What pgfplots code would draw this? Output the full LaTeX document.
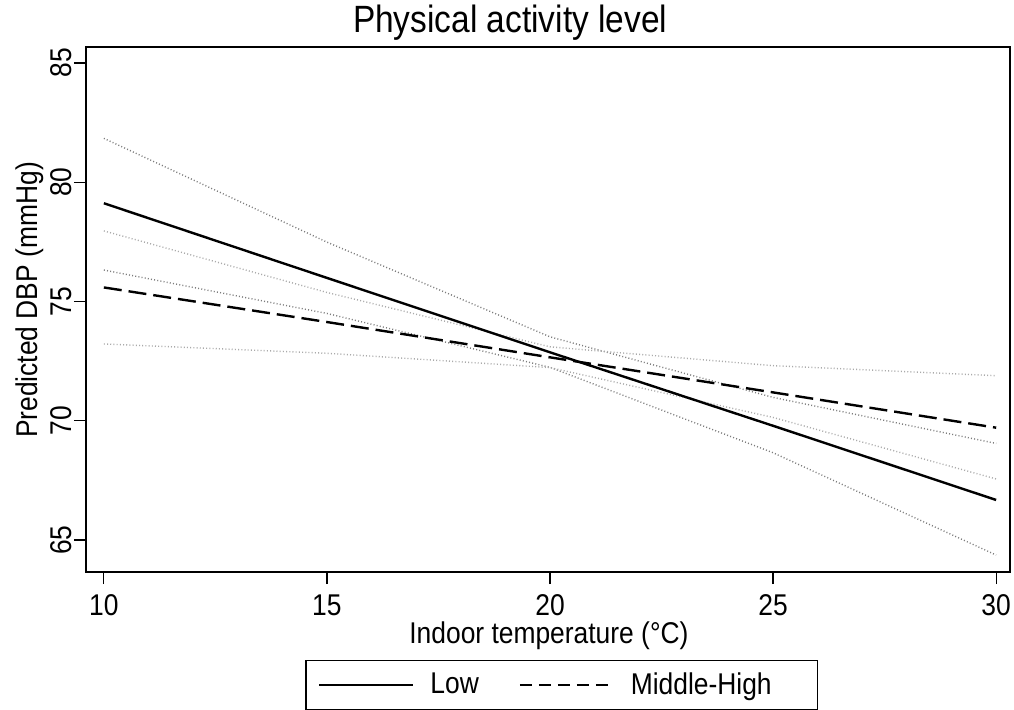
\documentclass[border=0pt]{standalone}
\usepackage{fontspec}
\setmainfont{Liberation Sans}[FakeStretch=0.88]
\usepackage{pgfplots}
\pgfplotsset{compat=1.18}

\definecolor{cilow}{RGB}{125,125,125}
\definecolor{cimid}{RGB}{170,170,170}

\begin{document}
\begin{tikzpicture}
\useasboundingbox (-43pt,-68.5pt) rectangle (464pt,286pt);
\begin{axis}[
    at={(0,0)}, anchor=south west,
    scale only axis,
    width=462pt, height=262.5pt,
    xmin=9.6, xmax=30.31,
    ymin=63.66, ymax=85.67,
    xtick={10,15,20,25,30},
    ytick={65,70,75,80,85},
    xtick pos=bottom, ytick pos=left,
    tick align=outside,
    major tick length=6pt,
    every tick/.style={black, line width=0.6pt},
    axis line style={line width=0.9pt},
    font=\fontsize{15}{18}\selectfont,
    /pgf/number format/assume math mode=true,
    xticklabel style={anchor=north, inner sep=0pt},
    xticklabel shift=5pt,
    yticklabel style={rotate=90, anchor=south, inner sep=0pt},
    yticklabel shift=1pt,
    title={Physical activity level},
    every axis title/.style={at={(axis description cs:0.459,1.0267)}, anchor=base,
        font=\fontsize{19}{22}\selectfont},
    xlabel={Indoor temperature (°C)},
    ylabel={Predicted DBP (mmHg)},
    every axis x label/.style={at={(axis description cs:0.501,-0.137)}, anchor=base},
    every axis y label/.style={at={(axis description cs:-0.053,0.518)}, anchor=base, rotate=90},
    legend style={at={(axis description cs:0.515,-0.168)}, anchor=north,
        draw=black, line width=0.6pt, legend columns=2,
        font=\fontsize{15}{18}\selectfont,
        inner xsep=6pt, inner ysep=4pt,
        /tikz/every odd column/.append style={column sep=6pt},
        /tikz/every even column/.append style={column sep=18pt}},
    legend cell align=left,
    legend image code/.code={\draw[#1] (0pt,0pt) -- (47pt,0pt);},
]
% confidence bands (Low)
\addplot[forget plot, cilow, line width=0.7pt, dash pattern=on 0.5pt off 1.1pt] coordinates {
    (10,81.84) (15,77.49) (20,73.52) (25,70.98) (30,69.05)};
\addplot[forget plot, cilow, line width=0.7pt, dash pattern=on 0.5pt off 1.1pt] coordinates {
    (10,76.32) (15,74.50) (20,72.24) (25,68.66) (30,64.37)};
% confidence bands (Middle-High)
\addplot[forget plot, cimid, line width=0.7pt, dash pattern=on 0.5pt off 1.1pt] coordinates {
    (10,77.96) (15,75.38) (20,73.10) (25,72.31) (30,71.89)};
\addplot[forget plot, cimid, line width=0.7pt, dash pattern=on 0.5pt off 1.1pt] coordinates {
    (10,73.22) (15,72.83) (20,72.23) (25,70.14) (30,67.56)};
% predictions
\addplot[black, line width=1.2pt] coordinates {
    (10,79.12) (15,75.99) (20,72.87) (25,69.79) (30,66.68)};
\addlegendentry{Low}
\addplot[black, line width=1.2pt, dash pattern=on 9pt off 3.5pt,
    legend image post style={line width=1pt, dash pattern=on 6pt off 3.5pt}] coordinates {
    (10,75.59) (15,74.14) (20,72.66) (25,71.19) (30,69.71)};
\addlegendentry{Middle-High\hspace*{15pt}}
\end{axis}
\end{tikzpicture}
\end{document}
